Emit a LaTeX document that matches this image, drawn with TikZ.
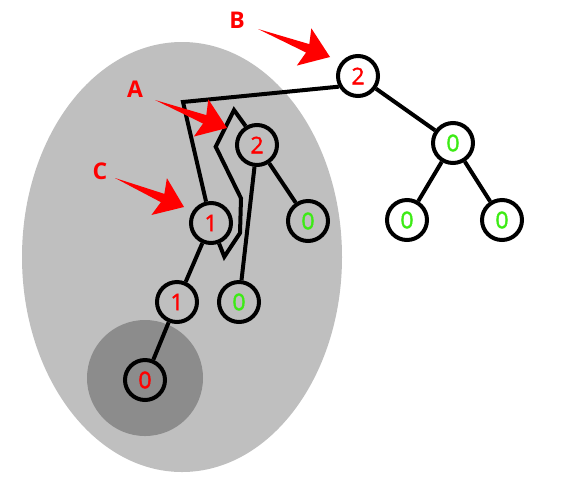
\documentclass[tikz,border=0pt]{standalone}
\usepackage{fontspec}
\setmainfont{Open Sans}
\newfontfamily\digitfont[FakeBold=1.5]{Open Sans}
\usetikzlibrary{calc}
\definecolor{lgray}{RGB}{191,191,191}
\definecolor{dgray}{RGB}{140,140,140}
\definecolor{nred}{RGB}{255,0,0}
\definecolor{ngreen}{RGB}{60,235,20}
\newcommand\redarrow[2]{\fill[pointer] (#1) -- ($(#1)!0.69!(#2)!4.5pt!90:(#2)$) -- ($(#1)!0.64!(#2)!20pt!90:(#2)$) -- (#2) -- ($(#1)!0.64!(#2)!20pt!-90:(#2)$) -- ($(#1)!0.69!(#2)!4.5pt!-90:(#2)$) -- cycle;}
\begin{document}
\begin{tikzpicture}[x=1pt,y=-1pt,
  tnode/.style={circle, draw=black, line width=4pt, minimum size=40pt, inner sep=0pt, font=\digitfont\fontsize{23}{23}\selectfont},
  rn/.style={tnode, text=nred},
  gn/.style={tnode, text=ngreen},
  edge/.style={line width=4pt, line join=miter},
  lbl/.style={text=nred, font=\fontsize{23}{23}\selectfont\bfseries},
  pointer/.style={fill=nred}]
\useasboundingbox (0,0) rectangle (585,491);
\fill[lgray] (182,257) ellipse [x radius=160pt, y radius=215pt];
\fill[dgray] (145,378) circle [radius=58pt];
% nodes
\node[rn] (B) at (358,76) {2};
\node[gn] (R0) at (453,143) {0};
\node[gn] (RL) at (407,220) {0};
\node[gn] (RR) at (502,220) {0};
\node[rn] (A) at (257,145) {2};
\node[gn] (A0) at (308,221) {0};
\node[rn] (C) at (211,223) {1};
\node[gn] (G0) at (239,302) {0};
\node[rn] (L1) at (177,302) {1};
\node[rn] (Z) at (145,380) {0};
% connectors
\coordinate (corner) at (183,102);
\coordinate (z1) at (234,110);
\coordinate (z2) at (215.7,146.7);
\coordinate (z3) at (241,198.3);
\coordinate (z4) at (240,233);
\coordinate (z5) at (224.3,256.7);
\draw[edge] (B) -- (R0);
\draw[edge] (R0) -- (RL);
\draw[edge] (R0) -- (RR);
\draw[edge] (A) -- (A0);
\draw[edge] (A) -- (G0);
\draw[edge] (C) -- (L1);
\draw[edge] (L1) -- (Z);
\draw[edge] (B.209) -- (corner) -- (C);
\draw[edge] (A.121) -- (z1) -- (z2) -- (z3) -- (z4) -- (z5) -- (C);
% pointers
\coordinate (Bt) at (258,29); \coordinate (Bp) at (330,57);
\coordinate (At) at (155,100); \coordinate (Ap) at (227,128);
\coordinate (Ct) at (115,178); \coordinate (Cp) at (184,207);
\redarrow{Bt}{Bp}
\redarrow{At}{Ap}
\redarrow{Ct}{Cp}
\node[lbl] (lB) at (237,20) {B};
\node[lbl] (lA) at (135,89) {A};
\node[lbl] (lC) at (100,171) {C};
\end{tikzpicture}
\end{document}
